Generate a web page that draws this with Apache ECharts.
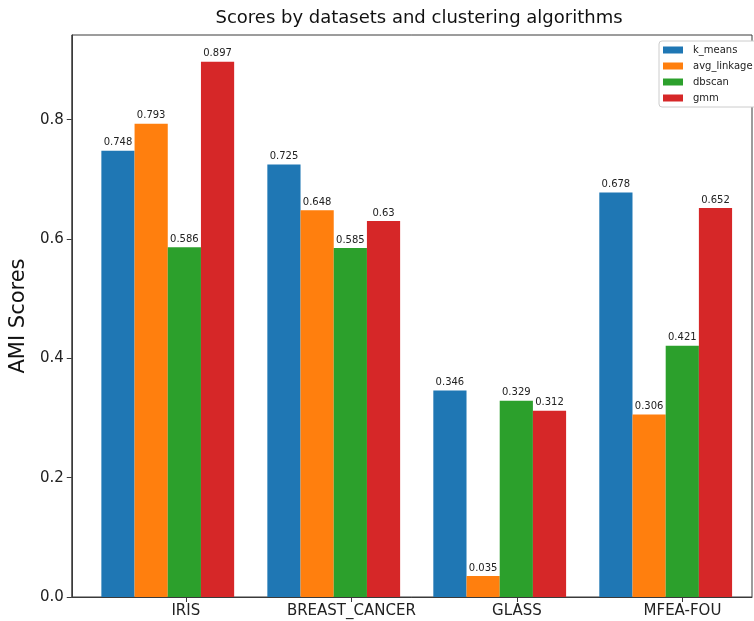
<!DOCTYPE html>
<html>
<head>
<meta charset="utf-8">
<script src="https://cdn.jsdelivr.net/npm/echarts@6/dist/echarts.min.js"></script>
<style>
  html, body { margin: 0; padding: 0; background: #fff; }
  #chart { width: 754px; height: 621px; }
</style>
</head>
<body>
<div id="chart"></div>
<script>
// Datasets and AMI scores per clustering algorithm
const categories = ['IRIS', 'BREAST_CANCER', 'GLASS', 'MFEA-FOU'];
const seriesNames = ['k_means', 'avg_linkage', 'dbscan', 'gmm'];
const kMeans     = [0.748, 0.725, 0.346, 0.678];
const avgLinkage = [0.793, 0.648, 0.035, 0.306];
const dbscan     = [0.586, 0.585, 0.329, 0.421];
const gmm        = [0.897, 0.63, 0.312, 0.652];
const yTicks = [0, 0.2, 0.4, 0.6, 0.8];

const colors = ['#1f77b4', '#ff7f0e', '#2ca02c', '#d62728'];
const FONT = 'DejaVu Sans';
const AXIS_COLOR = '#3a3a3a';

// Axes frame in pixels
const W = 754, H = 621;
const plotLeft = 70, plotRight = 752, plotTop = 35, plotBottom = 597;

// x range in tick units (ticks sit on the third bar of each group)
const xMin = -0.689, xMax = 3.42;
const unit = (plotRight - plotLeft) / (xMax - xMin);
// each group band spans [i - 0.6, i + 0.4] in tick units
const bandLeft = plotLeft + (-0.6 - xMin) * unit;
const bandRight = plotLeft + (categories.length - 0.6 - xMin) * unit;

const yMax = 0.897 * 1.05;

const values = [kMeans, avgLinkage, dbscan, gmm];

const chart = echarts.init(document.getElementById('chart'), null, { renderer: 'canvas' });

chart.setOption({
  animation: false,
  backgroundColor: '#fff',
  textStyle: { fontFamily: FONT },
  title: {
    text: 'Scores by datasets and clustering algorithms',
    left: (plotLeft + plotRight) / 2 + 3,
    textAlign: 'center',
    top: 4,
    textStyle: { fontFamily: FONT, fontSize: 18, fontWeight: 'normal', color: '#111' }
  },
  legend: {
    data: seriesNames,
    orient: 'vertical',
    left: 659,
    top: 41,
    icon: 'rect',
    itemWidth: 20,
    itemHeight: 7,
    itemGap: 4,
    padding: [3, 6, 3, 4],
    borderColor: '#cccccc',
    borderWidth: 1,
    borderRadius: 3,
    backgroundColor: '#fff',
    textStyle: { fontFamily: FONT, fontSize: 10, color: '#222', lineHeight: 12, padding: [0, 0, 0, 5] }
  },
  grid: [
    {
      left: plotLeft, right: W - plotRight, top: plotTop, bottom: H - plotBottom,
      show: true, borderColor: AXIS_COLOR, borderWidth: 1, backgroundColor: 'transparent'
    },
    {
      left: bandLeft, right: W - bandRight, top: plotTop, bottom: H - plotBottom,
      show: false
    }
  ],
  xAxis: [
    {
      gridIndex: 0,
      type: 'value',
      min: xMin,
      max: xMax,
      splitLine: { show: false },
      axisLine: { show: true, onZero: false, lineStyle: { color: AXIS_COLOR, width: 1 } },
      axisTick: {
        show: true, length: 5, inside: false,
        customValues: categories.map((_, i) => i),
        lineStyle: { color: AXIS_COLOR }
      },
      axisLabel: {
        customValues: categories.map((_, i) => i),
        formatter: v => categories[Math.round(v)],
        fontFamily: FONT, fontSize: 15, color: '#222', margin: 7
      }
    },
    {
      gridIndex: 1,
      type: 'category',
      data: categories,
      show: false
    }
  ],
  yAxis: [
    {
      gridIndex: 0,
      type: 'value',
      min: 0,
      max: yMax,
      splitLine: { show: false },
      axisLine: { show: true, onZero: false, lineStyle: { color: AXIS_COLOR, width: 1 } },
      axisTick: {
        show: true, length: 5, inside: false,
        customValues: yTicks,
        lineStyle: { color: AXIS_COLOR }
      },
      axisLabel: {
        customValues: yTicks,
        formatter: v => v.toFixed(1),
        fontFamily: FONT, fontSize: 15, color: '#222', margin: 8
      },
      name: 'AMI Scores',
      nameLocation: 'middle',
      nameGap: 34,
      nameRotate: 90,
      nameTextStyle: { fontFamily: FONT, fontSize: 21, color: '#111' }
    },
    {
      gridIndex: 1,
      type: 'value',
      min: 0,
      max: yMax,
      show: false
    }
  ],
  series: seriesNames.map((name, k) => ({
    name: name,
    type: 'bar',
    xAxisIndex: 1,
    yAxisIndex: 1,
    data: values[k],
    barWidth: '20%',
    barGap: '0%',
    itemStyle: { color: colors[k] },
    label: {
      show: true,
      position: 'top',
      distance: 3,
      formatter: p => String(p.value),
      fontFamily: FONT,
      fontSize: 10,
      color: '#222'
    }
  }))
});
</script>
</body>
</html>
